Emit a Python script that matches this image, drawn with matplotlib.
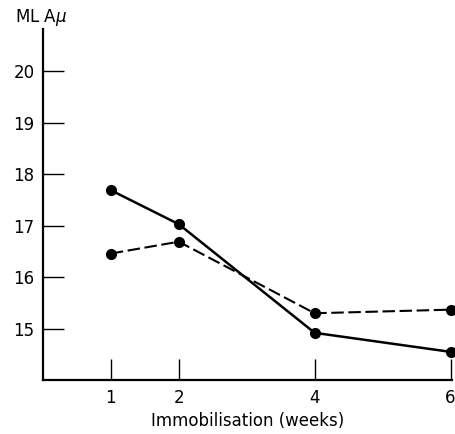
import matplotlib
matplotlib.use("Agg")
import matplotlib.pyplot as plt

weeks = [1, 2, 4, 6]
solid_vals = [17.69, 17.03, 14.92, 14.55]
dashed_vals = [16.46, 16.69, 15.30, 15.37]
y_ticks = [15, 16, 17, 18, 19, 20]

plt.rcParams['font.family'] = ['DejaVu Sans']

fig = plt.figure(figsize=(4.56, 4.34), dpi=100)
ax = fig.add_axes([0.094, 0.124, 0.897, 0.809])

ax.plot(weeks, solid_vals, color='black', lw=1.8, marker='o', ms=7, clip_on=False)
ax.plot(weeks, dashed_vals, color='black', lw=1.5, marker='o', ms=7,
        dashes=(6, 2.2), clip_on=False)

ax.set_xlim(0, 6.02)
ax.set_ylim(14, 20.82)
ax.set_xticks(weeks)
ax.set_yticks(y_ticks)

for side in ['top', 'right']:
    ax.spines[side].set_visible(False)
for side in ['left', 'bottom']:
    ax.spines[side].set_linewidth(1.6)

ax.tick_params(direction='in', length=15, width=1.0, labelsize=12, pad=6)
ax.set_xlabel('Immobilisation (weeks)', fontsize=12, labelpad=4)
fig.text(0.033, 0.96, 'ML A$\\mu$', fontsize=12, ha='left', va='center')

fig.savefig('out.png', dpi=100)
